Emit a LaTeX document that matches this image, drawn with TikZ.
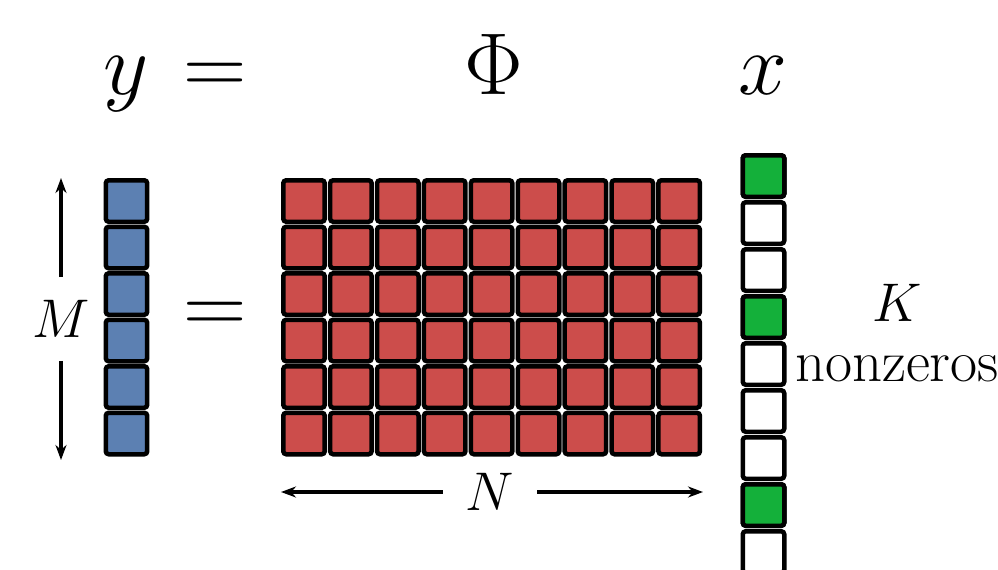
\RequirePackage{fix-cm}
\documentclass[tikz,border=0pt]{standalone}
\usepackage{tikz}
\usetikzlibrary{arrows.meta, positioning}
\definecolor{measblue}{RGB}{92, 128, 178}
\definecolor{matred}{RGB}{204, 77, 75}
\definecolor{sparsegreen}{RGB}{20, 176, 58}

\begin{document}
\begin{tikzpicture}[
    x=0.02cm, y=-0.02cm,
    cell/.style={draw=black, line width=0.09cm, rounded corners=0.06cm,
                 minimum size=0.83cm, inner sep=0pt},
    bigsym/.style={font=\fontsize{50}{60}\selectfont, anchor=base, inner sep=0pt},
    dimlabel/.style={font=\fontsize{31}{36}\selectfont, inner sep=0pt},
    arrow/.style={-{Stealth[length=0.3cm, width=0.22cm]}, line width=0.065cm}
]
    \useasboundingbox (0,0) rectangle (998,569);

    % header
    \node[bigsym] (ysym) at (126,94) {$y$};
    \node[bigsym] (eqtop) at (215,94) {$=$};
    \node[bigsym] (phisym) at (494,94) {$\Phi$};
    \node[bigsym] (xsym) at (763,94) {$x$};

    % measurement vector y
    \foreach \i in {1,...,6}
        \node[cell, fill=measblue] (y\i) at (126.5,{201+46.5*(\i-1)}) {};

    \node[bigsym, anchor=center] (eqmid) at (215,318) {$=$};

    % sensing matrix Phi
    \foreach \i in {1,...,6}
        \foreach \j in {1,...,9}
            \node[cell, fill=matred] (phi-\i-\j) at ({304+46.9*(\j-1)},{201+46.5*(\i-1)}) {};

    % sparse signal x
    \foreach \i in {1,...,9}
        \node[cell, fill=white] (x\i) at (763.5,{176+47*(\i-1)}) {};
    \foreach \i in {1,4,8}
        \node[cell, fill=sparsegreen] at (x\i) {};

    % dimensions
    \node[dimlabel, minimum height=1.66cm] (mlabel) at (61,319) {$M$};
    \coordinate (mtop) at (61,178);
    \coordinate (mbot) at (61,460);
    \draw[arrow] (mlabel.north) -- (mtop);
    \draw[arrow] (mlabel.south) -- (mbot);

    \node[dimlabel, minimum width=1.88cm] (nlabel) at (490,492) {$N$};
    \coordinate (nleft) at (281,492);
    \coordinate (nright) at (703,492);
    \draw[arrow] (nlabel.west) -- (nleft);
    \draw[arrow] (nlabel.east) -- (nright);

    \node[dimlabel] (klabel) at (897,303) {$K$};
    \node[dimlabel, font=\fontsize{33.5}{40}\selectfont, below=0.66cm of klabel] (nzlabel) {nonzeros};
\end{tikzpicture}
\end{document}
